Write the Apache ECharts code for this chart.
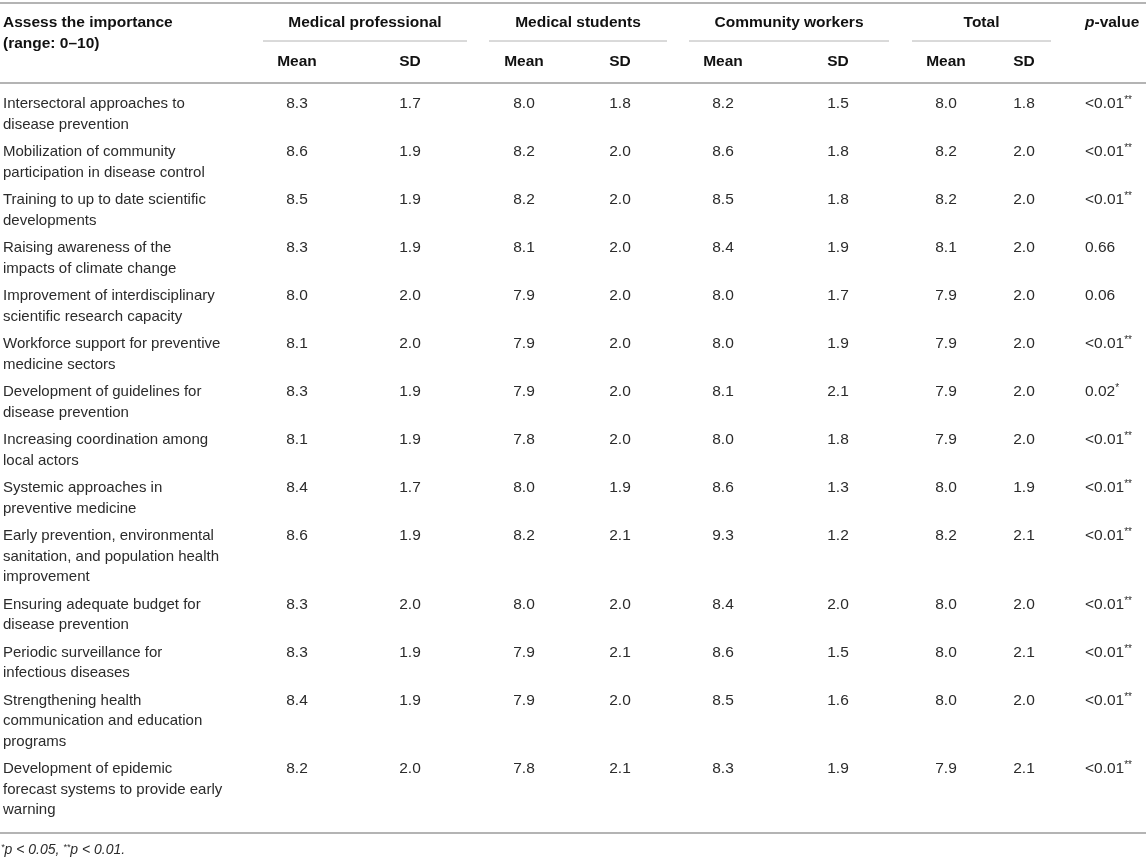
<!DOCTYPE html>
<html>
<head>
<meta charset="utf-8">
<script src="https://cdn.jsdelivr.net/npm/echarts@6/dist/echarts.min.js"></script>
<style>
  html, body { margin: 0; padding: 0; background: #fff; }
  #main { width: 1146px; height: 861px; }
</style>
</head>
<body>
<div id="main"></div>
<script>
// row labels, wrapped as in the printed table
const rowLabels = [
    'Intersectoral approaches to\ndisease prevention',
    'Mobilization of community\nparticipation in disease control',
    'Training to up to date scientific\ndevelopments',
    'Raising awareness of the\nimpacts of climate change',
    'Improvement of interdisciplinary\nscientific research capacity',
    'Workforce support for preventive\nmedicine sectors',
    'Development of guidelines for\ndisease prevention',
    'Increasing coordination among\nlocal actors',
    'Systemic approaches in\npreventive medicine',
    'Early prevention, environmental\nsanitation, and population health\nimprovement',
    'Ensuring adequate budget for\ndisease prevention',
    'Periodic surveillance for\ninfectious diseases',
    'Strengthening health\ncommunication and education\nprograms',
    'Development of epidemic\nforecast systems to provide early\nwarning'
];

const groups = ['Medical professional', 'Medical students', 'Community workers', 'Total'];
const subHeaders = ['Mean', 'SD'];

const profMean  = [8.3, 8.6, 8.5, 8.3, 8.0, 8.1, 8.3, 8.1, 8.4, 8.6, 8.3, 8.3, 8.4, 8.2];
const profSD    = [1.7, 1.9, 1.9, 1.9, 2.0, 2.0, 1.9, 1.9, 1.7, 1.9, 2.0, 1.9, 1.9, 2.0];
const studMean  = [8.0, 8.2, 8.2, 8.1, 7.9, 7.9, 7.9, 7.8, 8.0, 8.2, 8.0, 7.9, 7.9, 7.8];
const studSD    = [1.8, 2.0, 2.0, 2.0, 2.0, 2.0, 2.0, 2.0, 1.9, 2.1, 2.0, 2.1, 2.0, 2.1];
const commMean  = [8.2, 8.6, 8.5, 8.4, 8.0, 8.0, 8.1, 8.0, 8.6, 9.3, 8.4, 8.6, 8.5, 8.3];
const commSD    = [1.5, 1.8, 1.8, 1.9, 1.7, 1.9, 2.1, 1.8, 1.3, 1.2, 2.0, 1.5, 1.6, 1.9];
const totalMean = [8.0, 8.2, 8.2, 8.1, 7.9, 7.9, 7.9, 7.9, 8.0, 8.2, 8.0, 8.0, 8.0, 7.9];
const totalSD   = [1.8, 2.0, 2.0, 2.0, 2.0, 2.0, 2.0, 2.0, 1.9, 2.1, 2.0, 2.1, 2.0, 2.1];
const pValues   = ['<0.01**', '<0.01**', '<0.01**', '0.66', '0.06', '<0.01**', '0.02*',
                   '<0.01**', '<0.01**', '<0.01**', '<0.01**', '<0.01**', '<0.01**', '<0.01**'];

// layout
const FONT = '"Liberation Sans", Arial, Helvetica, sans-serif';
const W = 1146;
const LINE_H = 20.5;
const ROW_PAD = 7;
const FIRST_ROW_Y = 104;
const TEXT = '#2b2b2b';
const HEAD = '#111';
const RULE = '#b4b4b4';

// [mean x, sd x] for each group, and group rule extents
const colCenters = [[297, 410], [524, 620], [723, 838], [946, 1024]];
const groupRules = [[263, 467], [489, 667], [689, 889], [912, 1051]];
const P_X = 1085;

const numCols = [
    [profMean, profSD], [studMean, studSD], [commMean, commSD], [totalMean, totalSD]
];

const elements = [];

function hline(x1, x2, y, w) {
    elements.push({
        type: 'line',
        shape: { x1: x1, y1: y, x2: x2, y2: y },
        style: { stroke: RULE, lineWidth: w }
    });
}

function text(x, y, str, opts) {
    elements.push({
        type: 'text',
        x: x,
        y: y,
        style: Object.assign({
            text: str,
            fontFamily: FONT,
            fontSize: 15,
            fill: TEXT,
            textAlign: 'left',
            textVerticalAlign: 'middle'
        }, opts || {})
    });
}

// rules
hline(0, W, 3, 2);
hline(0, W, 83, 2);
groupRules.forEach(function (r) { hline(r[0], r[1], 41, 1); });
hline(0, W, 833, 2);

// header
const headBold = { fontWeight: 'bold', fontSize: 15.5, fill: HEAD };
text(3, 23, 'Assess the importance', headBold);
text(3, 44, '(range: 0\u201310)', headBold);
groups.forEach(function (g, i) {
    const r = groupRules[i];
    text((r[0] + r[1]) / 2, 23, g, Object.assign({ textAlign: 'center' }, headBold));
    subHeaders.forEach(function (s, j) {
        text(colCenters[i][j], 62, s, Object.assign({ textAlign: 'center' }, headBold));
    });
});
text(P_X, 23, '{i|p}{b|-value}', {
    rich: {
        i: { fontFamily: FONT, fontSize: 15.5, fontWeight: 'bold', fontStyle: 'italic', fill: HEAD },
        b: { fontFamily: FONT, fontSize: 15.5, fontWeight: 'bold', fill: HEAD }
    }
});

// body
let y = FIRST_ROW_Y;
rowLabels.forEach(function (label, r) {
    const nLines = label.split('\n').length;
    text(3, y - LINE_H / 2, label, { textVerticalAlign: 'top', lineHeight: LINE_H });
    numCols.forEach(function (pair, i) {
        pair.forEach(function (arr, j) {
            text(colCenters[i][j], y, arr[r].toFixed(1), { textAlign: 'center', fontSize: 15.5 });
        });
    });
    const m = pValues[r].match(/^(.*?)(\**)$/);
    text(P_X, y, '{v|' + m[1] + '}' + (m[2] ? '{s|' + m[2] + '}' : ''), {
        rich: {
            v: { fontFamily: FONT, fontSize: 15.5, fill: TEXT },
            s: { fontFamily: FONT, fontSize: 10, fill: TEXT, padding: [0, 0, 7, 0] }
        }
    });
    y += nLines * LINE_H + ROW_PAD;
});

// footnote
const fnRich = {
    s: { fontFamily: FONT, fontSize: 9, fontStyle: 'italic', fill: TEXT, padding: [0, 0, 6, 0] },
    i: { fontFamily: FONT, fontSize: 14, fontStyle: 'italic', fill: TEXT }
};
text(1, 850, '{s|*}{i|p < 0.05, }{s|**}{i|p < 0.01.}', { rich: fnRich });

const chart = echarts.init(document.getElementById('main'));
chart.setOption({
    backgroundColor: '#fff',
    animation: false,
    graphic: { elements: elements }
});
</script>
</body>
</html>
